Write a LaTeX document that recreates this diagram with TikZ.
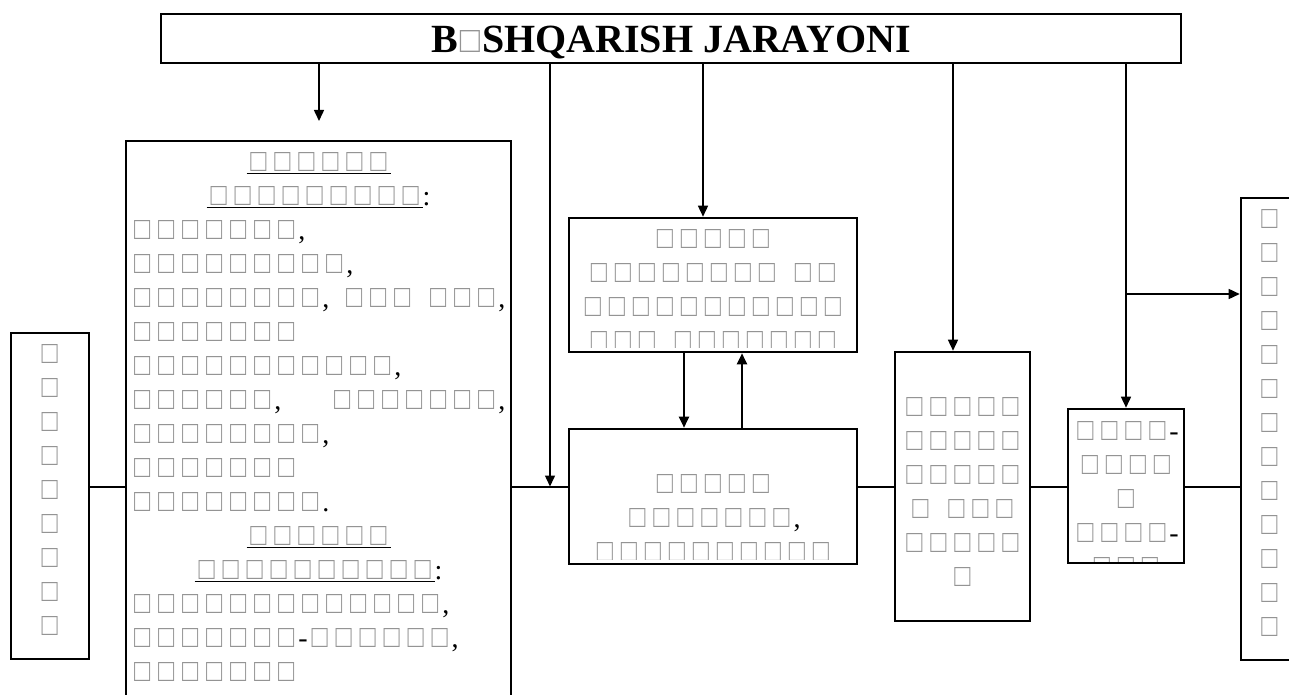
\documentclass[tikz,border=0pt]{standalone}
\usepackage{fontspec}
\setmainfont{Liberation Serif}
\newfontfamily\tofufont{Liberation Sans}
\usepackage{graphicx}
\usetikzlibrary{arrows.meta}
\definecolor{tofu}{gray}{0.58}
\newsavebox\tofubox
\newsavebox\ulbox
\newlength\tlsb \newlength\trsb \newlength\ttop \newlength\tbot
\newcommand\q{\makebox[24pt][c]{\resizebox{16pt}{19pt}{\usebox\tofubox}}}
\newcommand\qt{\makebox[24pt][c]{\resizebox{20pt}{22pt}{\usebox\tofubox}}}
\newcommand\tf[1]{\foreach\tfi in {1,...,#1}{\q}}
\newcommand\tul[1]{\sbox\ulbox{#1}\rlap{\rule[-3pt]{\wd\ulbox}{1.4pt}}\usebox\ulbox}
\newcommand\wsp{\hspace*{12pt}}
\newcommand\tcl[1]{\makebox[376.4pt][c]{#1}}
\newcommand\tll[1]{\makebox[376.4pt][l]{#1}}
\begin{document}
\begingroup
\tofufont\fontsize{30}{30}\selectfont
\global\tlsb=\XeTeXglyphbounds1 \XeTeXcharglyph"25A1\relax
\global\ttop=\XeTeXglyphbounds2 \XeTeXcharglyph"25A1\relax
\global\trsb=\XeTeXglyphbounds3 \XeTeXcharglyph"25A1\relax
\global\tbot=\XeTeXglyphbounds4 \XeTeXcharglyph"25A1\relax
\global\setbox\tofubox=\hbox{\textcolor{tofu}{\kern-\tlsb\raise\tbot\hbox{\char"25A1}\kern-\trsb}}
\global\ht\tofubox=\dimexpr\ttop+\tbot\relax
\global\dp\tofubox=0pt
\endgroup
\begin{tikzpicture}[x=1pt,y=-1pt,
  box/.style={draw, rectangle, line width=2.6pt, inner sep=0pt},
  txt/.style={inner sep=0pt, outer sep=0pt, font=\fontsize{28}{34}\selectfont},
  hl/.style={line width=2pt},
  vl/.style={line width=1.5pt},
  ml/.style={line width=2pt},
  arr/.style={-{Triangle[length=11pt,width=10pt]}}]
\useasboundingbox (0,0) rectangle (1289,695);
% boxes
\node[box, line width=1.8pt, minimum width=1020pt, minimum height=49pt] (title) at (671,38.5) {};
\node[box, minimum width=385pt, minimum height=600pt] (lb) at (318.5,441) {};
\node[box, minimum width=78pt, minimum height=326pt] (ls) at (50,496) {};
\node[box, minimum width=288pt, minimum height=134pt] (mt) at (713,285) {};
\node[box, minimum width=288pt, minimum height=135pt] (mb) at (713,496.5) {};
\node[box, minimum width=135pt, minimum height=269pt] (fc) at (962.5,486.5) {};
\node[box, minimum width=116pt, minimum height=154pt] (sm) at (1126,486) {};
\node[box, minimum width=59pt, minimum height=462pt] (rt) at (1270.5,429) {};
% title text
\node[anchor=base, inner sep=0pt, outer sep=0pt, font=\fontsize{40}{40}\selectfont\bfseries] (tt) at (671,52.7) {B\qt SHQARISH JARAYONI};
% horizontal chain
\coordinate (h) at (0,486.5);
\draw[hl] (ls.east |- h) -- (lb.west |- h);
\draw[hl] (lb.east |- h) -- (mb.west |- h);
\draw[hl] (mb.east |- h) -- (fc.west |- h);
\draw[hl] (fc.east |- h) -- (sm.west |- h);
\draw[hl] (sm.east |- h) -- (rt.west |- h);
% from title
\coordinate (a1) at (319,121);
\coordinate (j) at (550,486.5);
\coordinate (x703) at (703,0);
\coordinate (x953) at (953,0);
\coordinate (x684) at (684,0);
\coordinate (x742) at (742,0);
\coordinate (b) at (1126,294);
\draw[vl, arr] (title.south -| a1) -- (a1);
\draw[vl, arr] (title.south -| j) -- (j);
\draw[vl, arr] (title.south -| x703) -- (mt.north -| x703);
\draw[vl, arr] (title.south -| x953) -- (fc.north -| x953);
\draw[vl, arr] (title.south -| sm.north) -- (sm.north);
\draw[vl, arr] (b) -- (rt.west |- b);
\draw[ml, arr] (mt.south -| x684) -- (mb.north -| x684);
\draw[ml, arr] (mb.north -| x742) -- (mt.south -| x742);
% texts
\node[txt, align=left, anchor=north west] (lbt) at (130.3,152) {%
\tcl{\tul{\tf6}}\\
\tcl{\tul{\tf9}:}\\
\tll{\tf7,}\\
\tll{\tf9,}\\
\tll{\tf8,\hspace*{13pt}\tf3\wsp\tf3,}\\
\tll{\tf7}\\
\tll{\tf{11},}\\
\tll{\tf6,\hspace*{49pt}\tf7,}\\
\tll{\tf8,}\\
\tll{\tf7}\\
\tll{\tf8.}\\
\tcl{\tul{\tf6}}\\
\tcl{\tul{\tf{10}}:}\\
\tll{\tf{13},}\\
\tll{\tf7-\tf6,}\\
\tll{\tf7}};
\node[txt, align=center, anchor=north] (lst) at (49.7,344) {\q\\\q\\\q\\\q\\\q\\\q\\\q\\\q\\\q};
\begin{scope}
\clip (569,218) rectangle (857,347.5);
\node[txt, align=center, anchor=north] (mtt) at (713,229) {\tf5\\\tf8\wsp\tf2\\\tf{11}\\\tf3\wsp\tf7};
\end{scope}
\begin{scope}
\clip (569,429) rectangle (857,559);
\node[txt, align=center, anchor=north] (mbt) at (713,474) {\tf5\\\tf7,\\\tf{10}};
\end{scope}
\node[txt, align=center, anchor=north] (fct) at (962.5,397.7) {\tf5\\\tf5\\\tf5\\\q\wsp\tf3\\\tf5\\\q};
\begin{scope}
\clip (1068,409) rectangle (1184,561.5);
\node[txt, align=center, anchor=north] (smt) at (1126,421) {\tf4-\\\tf4\\\q\\\tf4-\\\tf3};
\end{scope}
\node[txt, align=center, anchor=north] (rtt) at (1269.5,209) {\q\\\q\\\q\\\q\\\q\\\q\\\q\\\q\\\q\\\q\\\q\\\q\\\q};
\end{tikzpicture}
\end{document}
